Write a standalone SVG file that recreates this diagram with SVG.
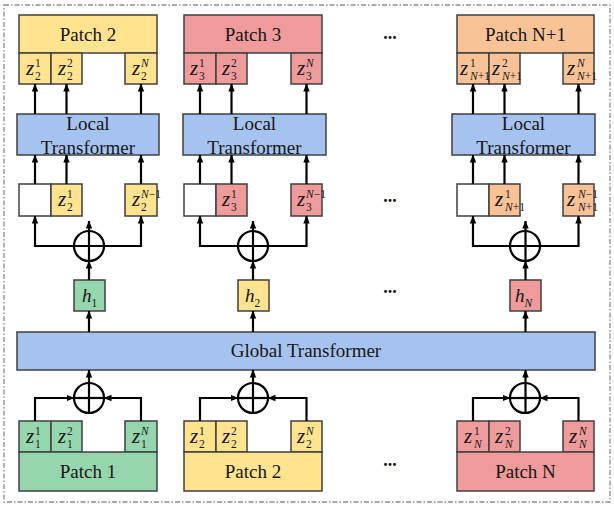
<svg xmlns="http://www.w3.org/2000/svg" width="614" height="505" viewBox="0 0 614 505">
<defs>
<marker id="ah" viewBox="0 0 8 8" refX="7.5" refY="4" markerWidth="8" markerHeight="8" markerUnits="userSpaceOnUse" orient="auto-start-reverse">
<path d="M0,0.8 L8,4 L0,7.2 z" fill="#000"/>
</marker>
<style>
.bx{stroke:#404040;stroke-width:1.5}
.y{fill:#FFE38E}.p{fill:#EF9B9B}.o{fill:#F8C297}.g{fill:#96D6AE}.b{fill:#A6C3F0}.w{fill:#FFFFFF}
.lbl{font-family:"Liberation Serif",serif;font-size:19px;fill:#161616;text-anchor:middle}
.mz{font-family:"Liberation Serif",serif;font-size:21px;font-style:italic;fill:#161616}
.mh{font-family:"Liberation Serif",serif;font-size:19px;font-style:italic;fill:#161616}
.ms{font-size:11.5px;font-style:normal}
.it{font-style:italic}
.ln{stroke:#000;stroke-width:2.2;fill:none}
.ar{stroke:#000;stroke-width:2.2;fill:none;marker-end:url(#ah)}
.ar2{stroke:#000;stroke-width:2.2;fill:none;marker-end:url(#ah);marker-start:url(#ah)}
.dots{font-family:"Liberation Serif",serif;font-size:18px;font-weight:bold;fill:#161616;text-anchor:middle}
</style>
</defs>
<rect x="4" y="5" width="606" height="497" fill="none" stroke="#8c8c8c" stroke-width="1.3" stroke-dasharray="5 2 1.5 2"/>

<!-- ============ Column A ============ -->
<g id="A-top-patch">
<rect class="bx y" x="19" y="15" width="138" height="38"/>
<text class="lbl" x="88" y="41">Patch 2</text>
</g>
<g id="A-top-tokens">
<rect class="bx y" x="19" y="53" width="32" height="31"/>
<rect class="bx y" x="51" y="53" width="31" height="31"/>
<rect class="bx y" x="125" y="53" width="32" height="31"/>
<text class="mz" x="26" y="75">z<tspan class="ms" x="35" dy="-8">1</tspan><tspan class="ms" x="35" dy="13">2</tspan></text>
<text class="mz" x="58" y="75">z<tspan class="ms" x="67" dy="-8">2</tspan><tspan class="ms" x="67" dy="13">2</tspan></text>
<text class="mz" x="132" y="75">z<tspan class="ms it" x="141" dy="-8">N</tspan><tspan class="ms" x="141" dy="13">2</tspan></text>
</g>
<g id="A-local">
<rect class="bx b" x="17" y="114" width="142" height="41"/>
<text class="lbl" x="88" y="130">Local<tspan x="88" dy="23.5">Transformer</tspan></text>
</g>
<g id="A-mid-tokens">
<rect class="bx w" x="19" y="184" width="32" height="32"/>
<rect class="bx y" x="51" y="184" width="31" height="32"/>
<rect class="bx y" x="125" y="184" width="32" height="32"/>
<text class="mz" x="58" y="206">z<tspan class="ms" x="67" dy="-8">1</tspan><tspan class="ms" x="67" dy="13">2</tspan></text>
<text class="mz" x="132" y="206">z<tspan class="ms" x="141" dy="-8"><tspan class="it">N</tspan>−1</tspan><tspan class="ms" x="141" dy="13">2</tspan></text>
</g>
<g id="A-h">
<rect class="bx g" x="74" y="280" width="31" height="31"/>
<text class="mh" x="82" y="302">h<tspan class="ms" dy="5">1</tspan></text>
</g>
<g id="A-bot-tokens">
<rect class="bx g" x="19" y="421" width="32" height="31"/>
<rect class="bx g" x="51" y="421" width="31" height="31"/>
<rect class="bx g" x="125" y="421" width="32" height="31"/>
<text class="mz" x="26" y="443">z<tspan class="ms" x="35" dy="-8">1</tspan><tspan class="ms" x="35" dy="13">1</tspan></text>
<text class="mz" x="58" y="443">z<tspan class="ms" x="67" dy="-8">2</tspan><tspan class="ms" x="67" dy="13">1</tspan></text>
<text class="mz" x="132" y="443">z<tspan class="ms it" x="141" dy="-8">N</tspan><tspan class="ms" x="141" dy="13">1</tspan></text>
</g>
<g id="A-bot-patch">
<rect class="bx g" x="19" y="452" width="138" height="39"/>
<text class="lbl" x="88" y="478">Patch 1</text>
</g>

<!-- ============ Column B ============ -->
<g id="B-top-patch">
<rect class="bx p" x="184" y="15" width="138" height="38"/>
<text class="lbl" x="253" y="41">Patch 3</text>
</g>
<g id="B-top-tokens">
<rect class="bx p" x="184" y="53" width="32" height="31"/>
<rect class="bx p" x="216" y="53" width="31" height="31"/>
<rect class="bx p" x="291" y="53" width="31" height="31"/>
<text class="mz" x="190" y="75">z<tspan class="ms" x="199" dy="-8">1</tspan><tspan class="ms" x="199" dy="13">3</tspan></text>
<text class="mz" x="222" y="75">z<tspan class="ms" x="231" dy="-8">2</tspan><tspan class="ms" x="231" dy="13">3</tspan></text>
<text class="mz" x="297" y="75">z<tspan class="ms it" x="306" dy="-8">N</tspan><tspan class="ms" x="306" dy="13">3</tspan></text>
</g>
<g id="B-local">
<rect class="bx b" x="183" y="114" width="143" height="41"/>
<text class="lbl" x="254.5" y="130">Local<tspan x="254.5" dy="23.5">Transformer</tspan></text>
</g>
<g id="B-mid-tokens">
<rect class="bx w" x="184" y="184" width="32" height="32"/>
<rect class="bx p" x="216" y="184" width="31" height="32"/>
<rect class="bx p" x="291" y="184" width="31" height="32"/>
<text class="mz" x="222" y="206">z<tspan class="ms" x="231" dy="-8">1</tspan><tspan class="ms" x="231" dy="13">3</tspan></text>
<text class="mz" x="297" y="206">z<tspan class="ms" x="306" dy="-8"><tspan class="it">N</tspan>−1</tspan><tspan class="ms" x="306" dy="13">3</tspan></text>
</g>
<g id="B-h">
<rect class="bx y" x="238" y="280" width="31" height="31"/>
<text class="mh" x="245" y="302">h<tspan class="ms" dy="5">2</tspan></text>
</g>
<g id="B-bot-tokens">
<rect class="bx y" x="184" y="421" width="32" height="31"/>
<rect class="bx y" x="216" y="421" width="31" height="31"/>
<rect class="bx y" x="291" y="421" width="31" height="31"/>
<text class="mz" x="190" y="443">z<tspan class="ms" x="199" dy="-8">1</tspan><tspan class="ms" x="199" dy="13">2</tspan></text>
<text class="mz" x="222" y="443">z<tspan class="ms" x="231" dy="-8">2</tspan><tspan class="ms" x="231" dy="13">2</tspan></text>
<text class="mz" x="297" y="443">z<tspan class="ms it" x="306" dy="-8">N</tspan><tspan class="ms" x="306" dy="13">2</tspan></text>
</g>
<g id="B-bot-patch">
<rect class="bx y" x="184" y="452" width="138" height="39"/>
<text class="lbl" x="253" y="478">Patch 2</text>
</g>

<!-- ============ Column C ============ -->
<g id="C-top-patch">
<rect class="bx o" x="457" y="15" width="137" height="38"/>
<text class="lbl" x="525.5" y="41">Patch N+1</text>
</g>
<g id="C-top-tokens">
<rect class="bx o" x="457" y="53" width="32" height="31"/>
<rect class="bx o" x="489" y="53" width="31" height="31"/>
<rect class="bx o" x="563" y="53" width="31" height="31"/>
<text class="mz" x="460" y="75">z<tspan class="ms" x="470" dy="-8">1</tspan><tspan class="ms" x="470" dy="13"><tspan class="it">N</tspan>+1</tspan></text>
<text class="mz" x="492" y="75">z<tspan class="ms" x="502" dy="-8">2</tspan><tspan class="ms" x="502" dy="13"><tspan class="it">N</tspan>+1</tspan></text>
<text class="mz" x="567" y="75">z<tspan class="ms it" x="577" dy="-8">N</tspan><tspan class="ms" x="577" dy="13"><tspan class="it">N</tspan>+1</tspan></text>
</g>
<g id="C-local">
<rect class="bx b" x="452" y="114" width="143" height="41"/>
<text class="lbl" x="523.5" y="130">Local<tspan x="523.5" dy="23.5">Transformer</tspan></text>
</g>
<g id="C-mid-tokens">
<rect class="bx w" x="457" y="184" width="32" height="32"/>
<rect class="bx o" x="489" y="184" width="31" height="32"/>
<rect class="bx o" x="563" y="184" width="31" height="32"/>
<text class="mz" x="495" y="206">z<tspan class="ms" x="505" dy="-8">1</tspan><tspan class="ms" x="505" dy="13"><tspan class="it">N</tspan>+1</tspan></text>
<text class="mz" x="567" y="206">z<tspan class="ms" x="578" dy="-8"><tspan class="it">N</tspan>−1</tspan><tspan class="ms" x="578" dy="13"><tspan class="it">N</tspan>+1</tspan></text>
</g>
<g id="C-h">
<rect class="bx p" x="510" y="280" width="31" height="31"/>
<text class="mh" x="515" y="302">h<tspan class="ms it" dy="5">N</tspan></text>
</g>
<g id="C-bot-tokens">
<rect class="bx p" x="457" y="421" width="32" height="31"/>
<rect class="bx p" x="489" y="421" width="31" height="31"/>
<rect class="bx p" x="563" y="421" width="31" height="31"/>
<text class="mz" x="464" y="443">z<tspan class="ms" x="474" dy="-8">1</tspan><tspan class="ms it" x="474" dy="13">N</tspan></text>
<text class="mz" x="495" y="443">z<tspan class="ms" x="505" dy="-8">2</tspan><tspan class="ms it" x="505" dy="13">N</tspan></text>
<text class="mz" x="569" y="443">z<tspan class="ms it" x="579" dy="-8">N</tspan><tspan class="ms it" x="579" dy="13">N</tspan></text>
</g>
<g id="C-bot-patch">
<rect class="bx p" x="457" y="452" width="137" height="39"/>
<text class="lbl" x="525.5" y="478">Patch N</text>
</g>

<!-- ============ Global ============ -->
<g id="global">
<rect class="bx b" x="17" y="332" width="578" height="38"/>
<text class="lbl" x="306" y="357">Global Transformer</text>
</g>

<g id="ellipses">
<text class="dots" x="390" y="39">...</text>
<text class="dots" x="390" y="202">...</text>
<text class="dots" x="390" y="293">...</text>
<text class="dots" x="390" y="466">...</text>
</g>

<!-- ============ Connectors ============ -->
<g id="connectors">
<!-- Column A -->
<path class="ar" d="M35,114 V84"/><path class="ar" d="M66.5,114 V84"/><path class="ar" d="M141,114 V84"/>
<path class="ar" d="M35,184 V155"/><path class="ar" d="M66.5,184 V155"/><path class="ar" d="M141,184 V155"/>
<path class="ar2" d="M35,216 V246 H141 V216"/>
<circle class="ln" cx="89" cy="246" r="15"/>
<path class="ar" d="M89,280 V261"/><path class="ar" d="M89,261 V221"/>
<path class="ar" d="M89,332 V311"/>
<path class="ar" d="M35,421 V398 H74"/><path class="ar" d="M141,421 V398 H104"/>
<circle class="ln" cx="89" cy="398" r="15"/>
<path class="ln" d="M74,398 H104"/><path class="ar" d="M89,413 V370"/>

<!-- Column B -->
<path class="ar" d="M200,114 V84"/><path class="ar" d="M231.5,114 V84"/><path class="ar" d="M306.5,114 V84"/>
<path class="ar" d="M200,184 V155"/><path class="ar" d="M231.5,184 V155"/><path class="ar" d="M306.5,184 V155"/>
<path class="ar2" d="M200,216 V246 H306.5 V216"/>
<circle class="ln" cx="253" cy="246" r="15"/>
<path class="ar" d="M253,280 V261"/><path class="ar" d="M253,261 V221"/>
<path class="ar" d="M253,332 V311"/>
<path class="ar" d="M200,421 V398 H238"/><path class="ar" d="M306.5,421 V398 H268"/>
<circle class="ln" cx="253" cy="398" r="15"/>
<path class="ln" d="M238,398 H268"/><path class="ar" d="M253,413 V370"/>

<!-- Column C -->
<path class="ar" d="M473,114 V84"/><path class="ar" d="M504.5,114 V84"/><path class="ar" d="M578.5,114 V84"/>
<path class="ar" d="M473,184 V155"/><path class="ar" d="M504.5,184 V155"/><path class="ar" d="M578.5,184 V155"/>
<path class="ar2" d="M473,216 V246 H578.5 V216"/>
<circle class="ln" cx="525" cy="246" r="15"/>
<path class="ar" d="M525.5,280 V261"/><path class="ar" d="M525.5,261 V221"/>
<path class="ar" d="M525.5,332 V311"/>
<path class="ar" d="M473,421 V398 H510"/><path class="ar" d="M578.5,421 V398 H540"/>
<circle class="ln" cx="525" cy="398" r="15"/>
<path class="ln" d="M510,398 H540"/><path class="ar" d="M525.5,413 V370"/>
</g>
</svg>
